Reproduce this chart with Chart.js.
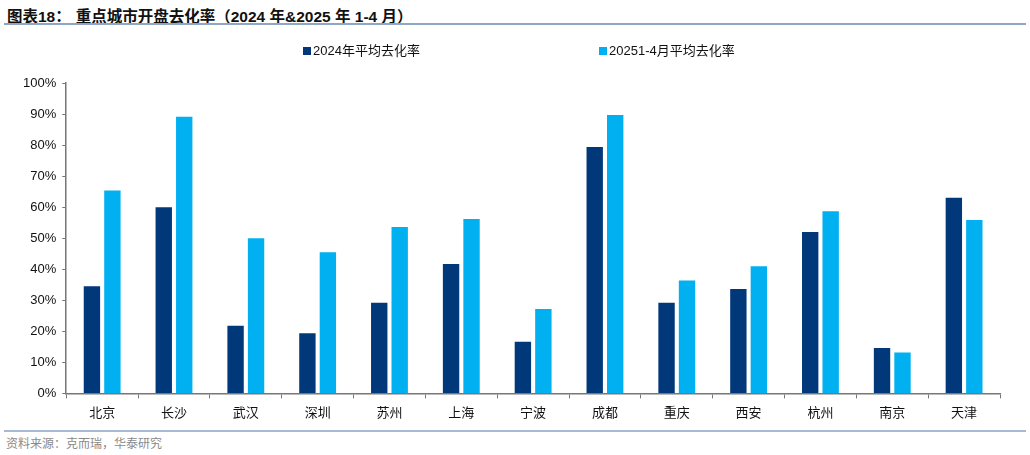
<!DOCTYPE html>
<html>
<head>
<meta charset="utf-8">
<script src="https://cdn.jsdelivr.net/npm/chart.js@4.4.1/dist/chart.umd.min.js"></script>
<style>
  body { margin: 0; width: 1030px; height: 455px; background: #fff; position: relative; overflow: hidden;
         font-family: "Liberation Sans", "Noto Sans CJK SC", sans-serif; }
  #title { position: absolute; left: 7px; top: 4px; font-size: 15.5px; font-weight: bold; color: #111;
           font-family: "Liberation Sans", "Noto Sans CJK SC", sans-serif; white-space: nowrap; }
  #title span { margin-left: 5px; }
  #topline { position: absolute; left: 4px; top: 23px; width: 1022px; height: 2px; background: #8DA6C6; }
  #botline { position: absolute; left: 4px; top: 430px; width: 1022px; height: 2px; background: #A7BAD3; }
  #source { position: absolute; left: 6px; top: 434px; font-size: 12px; color: #8a8a8a;
            font-family: "Noto Sans CJK SC", sans-serif; }
  #wrap { position: absolute; left: 0; top: 30px; width: 1030px; height: 396px; }
  .leg { position: absolute; top: 40px; font-size: 13px; color: #111; white-space: nowrap;
         font-family: "Liberation Sans", "Noto Sans CJK SC", sans-serif; }
  .leg i { display: inline-block; width: 8px; height: 8px; margin-right: 2px; vertical-align: 0px; }
</style>
</head>
<body>
<div id="title">图表18：<span>重点城市开盘去化率（2024 年&amp;2025 年 1-4 月）</span></div>
<div id="topline"></div>
<div id="wrap"><canvas id="chart"></canvas></div>
<div id="legend"></div>
<div id="botline"></div>
<div id="source">资料来源：克而瑞，华泰研究</div>
<script>
// 城市
var cities = ['北京', '长沙', '武汉', '深圳', '苏州', '上海', '宁波', '成都', '重庆', '西安', '杭州', '南京', '天津'];
// 2024年平均去化率 (%)
var rate2024 = [34.5, 60.0, 21.8, 19.4, 29.2, 41.7, 16.6, 79.4, 29.2, 33.6, 52.0, 14.6, 63.0];
// 2025年1-4月平均去化率 (%)
var rate2025 = [65.4, 89.1, 50.0, 45.5, 53.6, 56.2, 27.2, 89.7, 36.4, 41.0, 58.7, 13.2, 55.9];
var seriesNames = ['2024年平均去化率', '20251-4月平均去化率'];
var seriesColors = ['#00387A', '#00B0F0'];

// 图例 (HTML)
var legendX = [303, 599];
var legendBox = document.getElementById('legend');
seriesNames.forEach(function(name, i) {
    var d = document.createElement('div');
    d.className = 'leg';
    d.style.left = legendX[i] + 'px';
    d.innerHTML = '<i style="background:' + seriesColors[i] + '"></i>' + name;
    legendBox.appendChild(d);
});

var ctx = document.getElementById('chart').getContext('2d');
var chart = new Chart(ctx, {
    type: 'bar',
    data: {
        labels: cities,
        datasets: [
            {
                label: seriesNames[0],
                data: rate2024,
                backgroundColor: seriesColors[0],
                categoryPercentage: 0.57,
                barPercentage: 0.8
            },
            {
                label: seriesNames[1],
                data: rate2025,
                backgroundColor: seriesColors[1],
                categoryPercentage: 0.57,
                barPercentage: 0.8
            }
        ]
    },
    options: {
        responsive: true,
        maintainAspectRatio: false,
        animation: false,
        layout: { padding: { left: 17, right: 30, top: 53, bottom: 0 } },
        plugins: {
            tooltip: { enabled: false },
            legend: { display: false }
        },
        scales: {
            x: {
                grid: { display: true, drawOnChartArea: false, drawTicks: true, tickLength: 5, color: '#777', offset: true },
                border: { display: true, color: '#777', width: 1.5 },
                ticks: { color: '#111', padding: 6, font: { size: 13, family: '"Noto Sans CJK SC", sans-serif' } }
            },
            y: {
                min: 0,
                max: 100,
                grid: { display: true, drawOnChartArea: false, drawTicks: true, tickLength: 4, color: '#777' },
                border: { display: true, color: '#777', width: 1.5 },
                ticks: {
                    stepSize: 10,
                    autoSkip: false,
                    color: '#111',
                    padding: 6,
                    font: { size: 13, family: '"Liberation Sans", sans-serif' },
                    callback: function(v) { return v + '%'; }
                }
            }
        }
    }
});
</script>
</body>
</html>
